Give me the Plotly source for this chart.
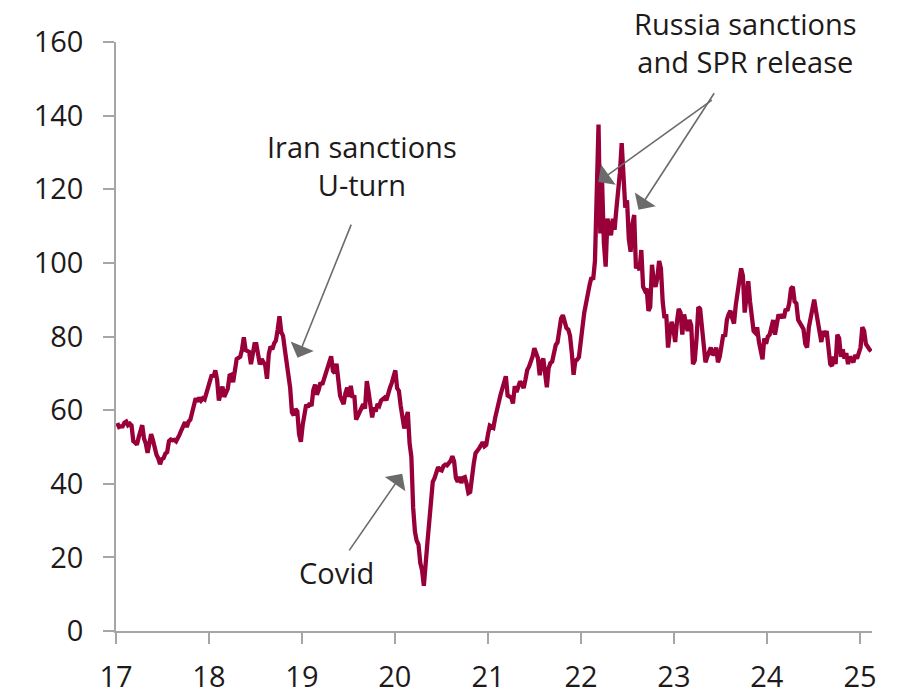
import pandas as pd
import plotly.graph_objects as go

# Weekly Brent price (US$/bbl)
y2017 = [56.5, 55.4, 55.6, 55.6, 56.6, 56.9, 55.9, 56.3, 55.8, 51.6, 51.2, 50.6, 52.6,
         54.8, 55.9, 52.3, 50.9, 48.4, 50.4, 53.5, 51.9, 49.7, 47.9, 46.9, 45.3, 46.7,
         47.0, 48.2, 48.6, 51.6, 52.0, 51.8, 51.9, 51.5, 52.3, 53.4, 54.6, 56.0, 56.7,
         55.4, 56.9, 57.4, 59.7, 61.5, 63.2, 62.3, 63.4, 62.6, 63.2, 62.9, 64.8, 66.6]
y2018 = [67.8, 69.6, 69.0, 70.8, 68.3, 62.6, 64.5, 66.4, 63.6, 64.9, 65.8, 69.4, 69.6,
         67.6, 71.9, 73.9, 74.2, 74.5, 76.5, 79.8, 76.3, 76.0, 75.8, 72.5, 74.6, 77.9,
         77.9, 74.8, 72.4, 73.9, 72.9, 72.2, 68.5, 75.2, 77.3, 76.5, 78.1, 78.9, 81.9,
         85.5, 81.2, 80.2, 76.5, 72.6, 70.0, 66.0, 59.4, 58.6, 60.3, 59.7, 53.5, 51.4]
y2019 = [55.9, 59.8, 61.5, 60.8, 61.9, 61.1, 65.5, 66.9, 64.2, 65.5, 67.5, 66.9, 68.3,
         70.1, 71.5, 72.9, 74.6, 70.6, 70.1, 72.6, 68.9, 63.9, 62.7, 61.6, 64.6, 66.1,
         63.6, 66.6, 63.4, 64.0, 57.4, 58.6, 59.2, 60.4, 61.6, 60.4, 67.9, 64.9, 62.1,
         58.0, 60.7, 59.6, 61.7, 61.2, 62.6, 63.0, 63.4, 62.7, 64.7, 66.1, 67.4, 68.9]
y2020 = [70.8, 66.0, 65.2, 61.2, 57.6, 55.0, 57.6, 59.5, 51.0, 47.3, 33.5, 27.0, 24.5,
         23.5, 18.5, 16.5, 12.3, 20.5, 24.0, 29.5, 34.5, 40.5, 41.5, 43.0, 44.5, 43.8,
         43.6, 44.8, 45.2, 45.0, 45.6, 46.2, 47.5, 46.0, 41.5, 40.5, 41.9, 40.2, 41.6,
         41.8, 40.0, 37.5, 37.8, 42.5, 45.5, 48.3, 48.8, 49.6, 50.4, 51.3, 50.2, 50.6]
y2021 = [53.5, 55.8, 55.5, 55.2, 57.9, 60.2, 62.8, 64.1, 65.8, 67.5, 69.2, 64.0, 63.8,
         63.4, 61.8, 66.5, 64.9, 66.6, 67.8, 67.1, 66.0, 68.3, 70.9, 71.8, 73.1, 74.6,
         76.8, 75.4, 74.1, 69.5, 73.0, 74.0, 70.7, 66.2, 71.4, 72.8, 73.2, 75.2, 77.7,
         78.4, 81.7, 84.9, 85.8, 84.0, 82.3, 81.9, 80.2, 75.6, 69.6, 73.4, 73.7, 74.4, 77.5]
y2022 = [82.5, 86.5, 89.5, 91.5, 94.0, 96.0, 95.5, 100.5, 123.0, 137.6, 108.0, 122.0,
         105.5, 99.0, 112.0, 109.0, 107.5, 112.0, 109.0, 114.5, 119.0, 124.5, 132.5,
         121.0, 115.0, 117.0, 106.5, 103.0, 110.5, 113.0, 98.5, 99.5, 98.0, 103.5, 93.5,
         92.5, 93.0, 87.0, 88.0, 99.5, 95.0, 93.5, 96.0, 100.5, 98.5, 89.5, 85.0, 86.0,
         77.0, 81.0, 84.0, 82.0]
y2023 = [78.5, 84.0, 87.5, 86.5, 80.5, 86.0, 84.0, 81.5, 84.5, 83.0, 72.5, 73.5, 79.5,
         88.0, 87.5, 82.5, 79.5, 73.0, 74.5, 75.5, 77.0, 75.0, 75.5, 77.0, 73.0, 74.5,
         78.0, 80.5, 80.0, 84.5, 86.0, 87.0, 85.0, 83.5, 88.5, 92.0, 94.5, 98.5, 96.5,
         86.5, 90.5, 95.0, 89.5, 86.0, 81.5, 81.0, 82.5, 78.5, 75.5, 73.8, 79.5, 78.0]
y2024 = [80.0, 80.5, 82.5, 84.5, 80.5, 83.5, 86.0, 85.0, 86.0, 85.0, 87.5, 87.0, 89.0,
         93.0, 93.5, 89.5, 89.0, 84.5, 83.5, 83.0, 82.0, 78.0, 77.0, 82.5, 85.5, 87.5,
         90.0, 87.0, 83.5, 82.0, 78.5, 81.5, 80.0, 81.5, 77.5, 72.5, 72.0, 74.5, 72.5,
         80.5, 79.5, 74.5, 76.5, 74.0, 75.5, 72.5, 74.5, 73.5, 73.0, 75.0, 74.0, 75.5]
y2025 = [77.0, 82.5, 81.5, 78.0, 77.0, 76.5, 76.0]

year_starts = ["2017-01-06", "2018-01-05", "2019-01-04", "2020-01-03",
               "2021-01-01", "2022-01-07", "2023-01-06", "2024-01-05", "2025-01-03"]
year_values = [y2017, y2018, y2019, y2020, y2021, y2022, y2023, y2024, y2025]

dates = []
values = []
for start, vals in zip(year_starts, year_values):
    dates += list(pd.date_range(start=start, periods=len(vals), freq="7D"))
    values += vals

LINE = "#99003a"
TXT = "#1e1a1a"
ARROW = "#6b6b6b"
AXIS = "#a6a6a6"
FONT = "Open Sans"

fig = go.Figure()
fig.add_trace(go.Scatter(x=dates, y=values, mode="lines",
                         line=dict(color=LINE, width=4.3), hoverinfo="skip",
                         showlegend=False))

# text labels (x in data, y in data or paper)
labels = [
    ("Iran sanctions<br>U-turn", "2019-08-25", 126.5, "y"),
    ("Covid", "2019-05-15", 15.8, "y"),
    ("Russia sanctions<br>and SPR release", "2023-10-08", 0.9995, "paper"),
]
for txt, x, y, yr in labels:
    fig.add_annotation(x=x, y=y, xref="x", yref=yr, text=txt, showarrow=False,
                       yanchor="middle", xanchor="center",
                       font=dict(family=FONT, size=29, color=TXT), align="center")

# arrows: (tip_x, tip_y, tail_x, tail_y)
arrows = [
    ("2018-12-15", 74.2, "2019-07-16", 110.8),
    ("2020-01-30", 42.7, "2019-07-02", 21.5),
    ("2022-03-10", 122.0, "2023-06-05", 144.5),
    ("2022-08-15", 114.4, "2023-06-12", 146.5),
]
for tx, ty, sx, sy in arrows:
    fig.add_annotation(x=tx, y=ty, ax=sx, ay=sy, xref="x", yref="y",
                       axref="x", ayref="y", text="", showarrow=True,
                       arrowhead=1, arrowsize=2.6, arrowwidth=1.6,
                       arrowcolor=ARROW)

# the page adds an 8px body margin, so the figure is 16px smaller than the window
fig.update_layout(
    width=892, height=685,
    margin=dict(l=108, r=28, t=34, b=62, autoexpand=False),
    plot_bgcolor="white", paper_bgcolor="white",
    font=dict(family=FONT, size=29, color=TXT),
    showlegend=False,
)
fig.update_xaxes(
    type="date", range=["2017-01-01", "2025-02-17"],
    tick0="2017-01-01", dtick="M12", tickformat="%y",
    showgrid=False, zeroline=False, automargin=False,
    showline=True, linecolor=AXIS, linewidth=1.5,
    ticks="outside", ticklen=11, tickwidth=1.5, tickcolor=AXIS,
    ticklabelstandoff=8,
    tickfont=dict(family=FONT, size=29, color=TXT),
)
fig.update_yaxes(
    range=[0, 160], dtick=20, tick0=0,
    showgrid=False, zeroline=False, automargin=False,
    showline=True, linecolor=AXIS, linewidth=1.5,
    ticks="outside", ticklen=11, tickwidth=1.5, tickcolor=AXIS,
    ticklabelstandoff=14,
    tickfont=dict(family=FONT, size=29, color=TXT),
)

fig.write_html("out.html")
